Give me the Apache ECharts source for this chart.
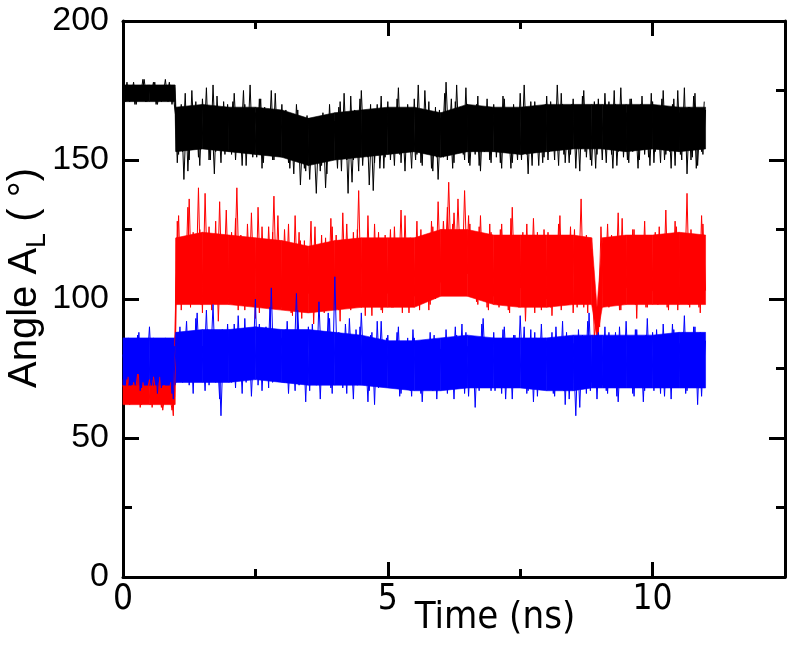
<!DOCTYPE html>
<html>
<head>
<meta charset="utf-8">
<script src="https://cdn.jsdelivr.net/npm/echarts@6/dist/echarts.min.js"></script>
<style>
  html, body { margin: 0; padding: 0; background: #fff; }
  #chart { width: 800px; height: 664px; }
</style>
</head>
<body>
<div id="chart"></div>
<script>
// sampling step of the traces (ns); the second set of readings sits half a step later
var timeStep = 0.05;

// angle traces, one value every 0.05 ns from 0 to 11 ns
var blackAngle = [
  176,171,177,172,178,170,176,173,179,171,177,172,178,170,176,172,179,171,177,173,
  165,152,170,143,168,150,175,155,166,148,172,156,169,150,177,153,167,149,171,155,
  168,152,174,156,166,148,170,154,177,151,167,157,172,149,165,153,175,150,168,155,
  170,151,166,147,163,150,168,141,162,146,165,149,160,138,164,148,166,145,170,150,
  164,147,171,152,167,138,173,150,165,146,175,153,168,141,166,149,170,147,163,151,
  171,150,166,153,176,149,168,155,164,147,172,152,167,148,175,154,163,146,169,143,
  165,151,178,155,172,149,177,153,166,150,170,148,164,152,173,146,168,155,166,149,
  170,151,165,147,172,154,168,149,163,150,174,152,167,145,171,153,166,148,169,151,
  173,153,167,150,177,155,170,149,165,152,172,147,168,154,175,151,166,148,171,152,
  168,150,174,154,166,147,170,153,176,151,167,149,172,155,165,150,173,152,168,148,
  171,153,166,149,175,152,168,147,172,154,167,150,176,145,169,151,174,148,166,152,
  168
];
var redAngle = [
  69,64,72,63,70,65,73,62,68,66,71,61,69,64,72,60,67,63,70,58,
  104,130,96,122,101,136,99,118,104,125,95,138,103,121,100,128,92,119,105,132,
  99,124,106,140,101,120,96,127,104,122,93,133,102,119,98,126,105,137,100,121,
  97,125,103,118,94,130,100,121,96,116,102,128,91,119,99,123,95,117,101,126,
  98,120,92,131,100,118,96,124,103,139,97,121,101,116,94,127,99,120,95,123,
  102,125,97,119,104,132,99,121,95,117,101,128,96,122,103,118,98,126,100,135,
  106,128,110,142,108,131,112,125,104,139,109,127,101,122,98,130,103,120,96,124,
  101,119,97,127,103,121,95,133,100,118,104,124,92,120,99,129,102,117,96,125,
  100,122,94,118,103,130,98,121,101,126,95,119,104,136,97,123,99,118,86,97,
  90,120,103,127,98,119,101,131,96,122,104,118,99,125,93,121,102,128,97,120,
  103,124,98,119,101,132,96,121,104,126,99,118,102,138,97,123,100,120,95,127,
  103
];
var blueAngle = [
  80,72,86,70,83,74,88,68,82,75,90,71,84,66,81,73,86,70,79,64,
  88,71,84,76,92,69,86,74,95,72,83,67,89,75,98,70,85,58,87,73,
  84,70,91,74,86,66,93,72,87,75,100,69,85,73,90,68,104,71,88,76,
  86,70,92,73,84,67,96,74,88,63,90,72,85,69,99,75,87,70,93,66,
  108,72,86,68,91,74,84,64,89,71,95,73,85,67,88,62,92,70,84,72,
  87,69,82,73,90,66,84,71,80,65,86,70,83,63,81,68,88,67,84,70,
  82,68,89,71,84,64,87,70,91,66,83,72,86,61,85,69,93,71,84,67,
  88,70,83,66,90,72,85,64,87,69,94,71,84,67,89,63,86,70,91,68,
  85,71,88,65,83,69,92,62,86,70,84,58,89,68,85,66,95,70,87,64,
  84,69,90,66,86,71,88,63,83,68,92,70,85,65,89,72,86,67,93,69,
  88,70,85,66,91,72,87,64,89,69,84,71,94,67,86,70,90,62,88,71,
  85
];

// in-between readings at 0.025, 0.075, ... 10.975 ns
var blackAngleMid = [
  172,178,171,177,170,176,172,179,171,177,173,178,170,176,171,177,172,178,170,176,
  149,169,153,174,146,167,156,171,151,166,154,176,150,168,145,173,155,165,152,170,
  158,171,150,166,155,175,148,168,153,164,151,172,147,169,156,167,150,174,152,165,
  156,168,149,164,145,170,152,161,147,166,143,163,150,159,146,167,140,162,151,165,
  153,169,146,174,150,163,142,168,154,172,148,165,151,170,139,166,152,173,147,168,
  155,166,148,172,152,167,146,170,155,164,150,177,149,166,153,171,147,165,151,168,
  154,174,150,166,147,171,156,165,152,176,149,167,155,170,148,164,153,172,150,168,
  156,168,149,173,153,164,147,170,155,166,150,177,152,165,148,171,154,167,149,170,
  150,171,155,166,148,174,152,164,149,170,156,167,146,173,153,165,150,169,147,172,
  155,166,149,171,152,175,148,165,154,168,150,172,153,166,147,170,155,167,151,174,
  149,168,154,172,150,165,153,170,148,175,152,166,155,169,150,173,147,167,153,171
];
var redAngleMid = [
  63,71,62,69,65,73,61,70,64,68,62,72,66,70,61,69,63,67,60,65,
  128,99,119,103,133,97,124,101,140,98,117,104,126,96,122,100,135,99,120,103,
  118,100,129,96,123,104,116,99,131,101,121,95,126,103,118,97,124,100,130,98,
  120,99,127,95,117,101,124,93,121,98,119,100,126,96,115,102,122,97,129,99,
  123,96,119,101,127,99,116,97,125,100,121,94,130,98,118,102,124,96,117,101,
  120,97,126,102,118,95,130,100,122,98,117,103,125,99,121,96,128,101,119,104,
  125,107,133,111,127,106,136,109,124,105,130,102,121,99,126,101,118,97,127,100,
  121,98,125,102,118,96,129,100,122,97,120,103,127,99,117,95,124,101,119,98,
  124,97,119,101,127,96,121,103,118,99,125,97,121,100,118,95,122,98,93,88,
  126,100,121,97,123,102,118,96,129,99,120,103,125,98,117,101,123,97,121,100,
  120,99,126,102,118,97,123,100,128,96,121,103,119,98,125,101,120,97,130,100
];
var blueAngleMid = [
  74,84,69,81,72,87,67,83,75,80,70,86,73,82,68,85,71,79,66,83,
  72,90,70,85,74,88,66,93,71,84,73,96,69,86,75,82,64,89,72,91,
  71,87,68,94,73,83,70,89,65,86,74,91,67,85,72,97,70,88,73,84,
  70,89,66,85,74,102,69,87,72,84,67,91,73,86,64,88,71,95,68,85,
  73,88,70,84,66,93,72,86,69,90,74,83,63,87,71,85,68,92,70,86,
  68,84,72,88,65,82,70,86,67,89,71,83,66,85,69,81,72,87,64,83,
  70,86,66,83,72,90,68,84,71,88,65,85,70,82,67,91,69,84,72,86,
  67,85,71,89,64,84,70,87,68,83,72,90,66,85,70,88,65,84,71,86,
  69,86,66,90,71,84,67,88,64,85,70,83,61,87,69,92,67,85,70,88,
  70,85,67,88,72,84,65,90,69,86,71,83,66,89,70,85,63,87,71,84,
  67,89,71,84,65,86,70,91,68,85,72,88,66,84,69,90,71,86,65,87
];

// dense core of each trace (where the lines fill solid), read as low / high edges
var coreTimes = [0, 0.5, 0.98, 1.0, 1.5, 2.0, 2.5, 3.0, 3.5, 4.0, 4.5, 5.0, 5.5, 6.0, 6.5, 7.0, 7.5, 8.0, 8.5, 8.85, 8.95, 9.05, 9.5, 10.0, 10.5, 11.0];
var blackLow  = [171,171,171,153,154,153,152,151,148,150,151,152,153,151,153,153,152,153,154,154,154,154,153,154,153,154];
var blackHigh = [177,177,177,169,170,169,169,168,165,167,168,169,169,167,170,169,169,170,170,170,170,170,170,170,169,169];
var redLow    = [62,62,62,98,98,98,97,96,95,96,97,97,97,101,101,98,97,97,98,98,86,97,98,98,98,98];
var redHigh   = [71,71,71,122,124,123,122,121,119,121,122,122,122,125,125,123,123,123,123,122,97,122,123,123,124,123];
var blueLow   = [69,69,69,70,70,70,71,70,69,69,69,68,67,67,68,68,68,67,67,68,68,68,68,68,68,68];
var blueHigh  = [86,86,86,88,89,89,90,89,89,88,87,85,85,86,87,86,86,86,87,87,87,87,87,87,88,88];

function toPairs(arr, offset) {
  var out = [];
  for (var i = 0; i < arr.length; i++) {
    out.push([+(offset + i * timeStep).toFixed(3), arr[i]]);
  }
  return out;
}

// filled core drawn as quads between consecutive low/high readings
function coreBand(low, high, color) {
  var data = [];
  for (var i = 0; i < coreTimes.length - 1; i++) {
    data.push([coreTimes[i], low[i], high[i], coreTimes[i + 1], low[i + 1], high[i + 1]]);
  }
  return {
    type: 'custom', silent: true, data: data,
    encode: { x: [0, 3], y: [1, 2, 4, 5] },
    renderItem: function (params, api) {
      var p0 = api.coord([api.value(0), api.value(1)]);
      var p1 = api.coord([api.value(3), api.value(4)]);
      var p2 = api.coord([api.value(3), api.value(5)]);
      var p3 = api.coord([api.value(0), api.value(2)]);
      return {
        type: 'polygon',
        shape: { points: [p0, p1, p2, p3] },
        style: { fill: color, stroke: color, lineWidth: 0.6 }
      };
    }
  };
}

function trace(arr, offset, color) {
  return { type: 'line', data: toPairs(arr, offset), showSymbol: false, silent: true,
    lineStyle: { color: color, width: 1 }, itemStyle: { color: color } };
}

var chart = echarts.init(document.getElementById('chart'));

var tickFont = 'Liberation Sans, Arial, sans-serif';
var narrowFont = 'Liberation Sans Narrow, DejaVu Sans Condensed, Arial Narrow, sans-serif';

function xAx(pos, interval, len, withLine, extra) {
  var a = {
    type: 'value', position: pos, min: 0, max: 12.5, interval: interval,
    axisLine: { show: withLine, onZero: false, lineStyle: { color: '#000', width: 3 } },
    axisTick: { show: true, inside: true, length: len, lineStyle: { color: '#000', width: 3 } },
    axisLabel: { show: false },
    splitLine: { show: false }
  };
  return Object.assign(a, extra || {});
}
function yAx(pos, interval, len, withLine, extra) {
  var a = {
    type: 'value', position: pos, min: 0, max: 200, interval: interval,
    axisLine: { show: withLine, onZero: false, lineStyle: { color: '#000', width: 3 } },
    axisTick: { show: true, inside: true, length: len, lineStyle: { color: '#000', width: 3 } },
    axisLabel: { show: false },
    splitLine: { show: false }
  };
  return Object.assign(a, extra || {});
}

var series = [
  coreBand(blackLow, blackHigh, '#000000'),
  trace(blackAngle, 0, '#000000'),
  trace(blackAngleMid, timeStep / 2, '#000000'),
  coreBand(redLow, redHigh, '#ff0000'),
  trace(redAngle, 0, '#ff0000'),
  trace(redAngleMid, timeStep / 2, '#ff0000'),
  coreBand(blueLow, blueHigh, '#0000ff'),
  trace(blueAngle, 0, '#0000ff'),
  trace(blueAngleMid, timeStep / 2, '#0000ff')
];

var option = {
  animation: false,
  backgroundColor: '#fff',
  grid: { left: 123, right: 15, top: 21, bottom: 87, containLabel: false, outerBoundsMode: 'none' },
  xAxis: [
    xAx('bottom', 5, 15, true, {
      axisLabel: {
        show: true, color: '#000', fontSize: 35, fontFamily: narrowFont, margin: 5,
        formatter: function (v) { return v % 5 === 0 ? String(v) : ''; }
      },
      name: 'Time (ns)', nameLocation: 'middle', nameGap: 22, nameMoveOverlap: false,
      nameTextStyle: { color: '#000', fontSize: 38, fontFamily: narrowFont, padding: [0, 0, 0, 82] }
    }),
    xAx('bottom', 2.5, 8, false),
    xAx('top', 5, 15, true),
    xAx('top', 2.5, 8, false)
  ],
  yAxis: [
    yAx('left', 50, 16, true, {
      axisLabel: { show: true, color: '#000', fontSize: 34, fontFamily: tickFont, margin: 14 },
      name: '{a|Angle A}{s|L}{a| ( °)}', nameLocation: 'middle', nameGap: 72, nameMoveOverlap: false,
      nameTextStyle: {
        color: '#000', fontFamily: tickFont, padding: [0, 0, 0, 42],
        rich: {
          a: { fontSize: 40, fontFamily: tickFont, color: '#000', lineHeight: 52, verticalAlign: 'middle' },
          s: { fontSize: 27, fontFamily: tickFont, color: '#000', lineHeight: 26, verticalAlign: 'bottom' }
        }
      }
    }),
    yAx('left', 25, 9, false),
    yAx('right', 50, 16, true),
    yAx('right', 25, 9, false)
  ],
  series: series
};

chart.setOption(option);
</script>
</body>
</html>
